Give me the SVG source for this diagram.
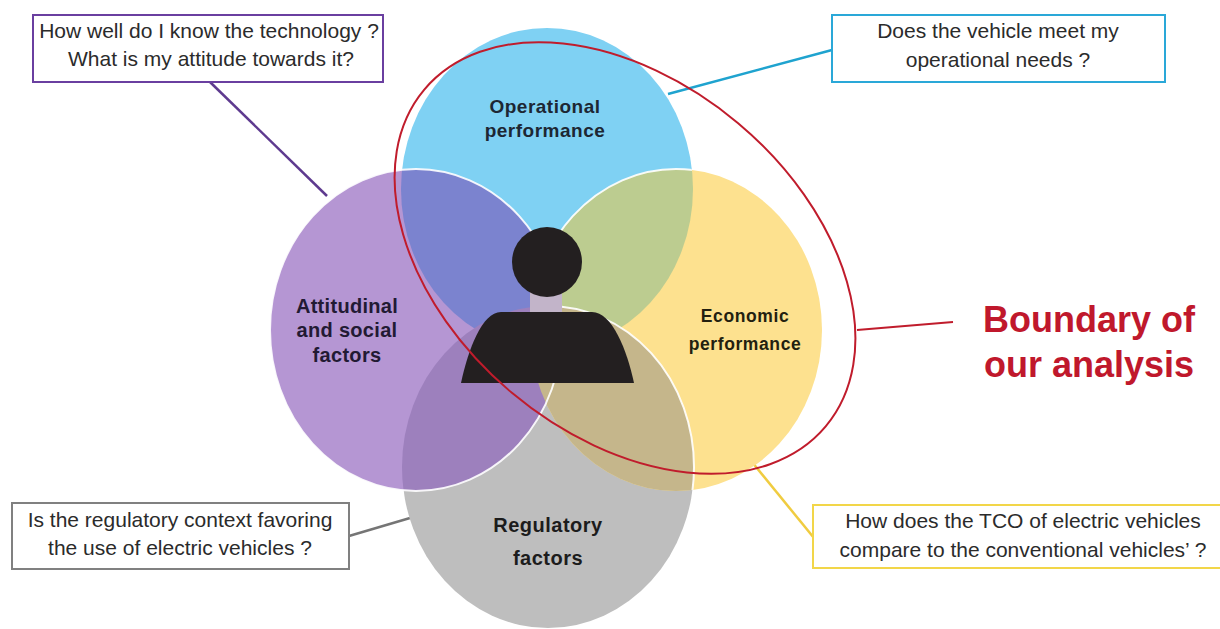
<svg xmlns="http://www.w3.org/2000/svg" width="1220" height="629" viewBox="0 0 1220 629">
<style>
.q{font-family:"Liberation Sans",Arial,sans-serif;font-size:21px;fill:#2b2b2b;text-anchor:middle}
.lbl{font-family:"Liberation Sans",Arial,sans-serif;font-weight:bold;text-anchor:middle}
.box{fill:#ffffff;stroke-width:2}
.conn{stroke-width:2.5;fill:none}
.edge{fill:none;stroke:#ffffff;stroke-width:2;opacity:0.9}
</style>
<defs>
<clipPath id="cBlue"><ellipse cx="547" cy="189" rx="146" ry="161"/></clipPath>
<clipPath id="cPurple"><ellipse cx="416" cy="330" rx="146" ry="161"/></clipPath>
<clipPath id="cYellow"><ellipse cx="676" cy="330" rx="146" ry="161"/></clipPath>
</defs>
<rect width="1220" height="629" fill="#ffffff"/>

<g id="connectors">
<line class="conn" x1="210" y1="82" x2="327" y2="196" stroke="#5e3a8f"/>
<line class="conn" x1="832" y1="50" x2="668" y2="94" stroke="#1fa3cf"/>
<line class="conn" x1="349" y1="536" x2="410" y2="518" stroke="#757575"/>
<line class="conn" x1="752" y1="462" x2="814" y2="538" stroke="#f0cc40"/>
<line x1="857" y1="330" x2="953" y2="322" stroke="#c01c2c" stroke-width="2"/>
</g>

<g id="node-operational">
<ellipse cx="547" cy="189" rx="146" ry="161" fill="#7fd1f3"/>
</g>
<g id="node-regulatory">
<ellipse cx="548" cy="467" rx="146" ry="161" fill="#bebebe"/>
</g>
<g id="node-attitudinal">
<ellipse cx="416" cy="330" rx="146" ry="161" fill="#b596d3"/>
</g>
<g id="node-economic">
<ellipse cx="676" cy="330" rx="146" ry="161" fill="#fde18f"/>
</g>
<g id="overlaps">
<ellipse cx="416" cy="330" rx="146" ry="161" fill="#7b83cf" clip-path="url(#cBlue)"/>
<ellipse cx="676" cy="330" rx="146" ry="161" fill="#bccc90" clip-path="url(#cBlue)"/>
<ellipse cx="548" cy="467" rx="146" ry="161" fill="#9d80bd" clip-path="url(#cPurple)"/>
<ellipse cx="548" cy="467" rx="146" ry="161" fill="#c5b68b" clip-path="url(#cYellow)"/>
<ellipse class="edge" cx="416" cy="330" rx="146" ry="161"/>
<ellipse class="edge" cx="676" cy="330" rx="146" ry="161" clip-path="url(#cBlue)"/>
<ellipse class="edge" cx="548" cy="467" rx="146" ry="161" clip-path="url(#cYellow)"/>
</g>

<g id="labels">
<text class="lbl" x="545" y="113" font-size="19" letter-spacing="0.5" fill="#1d2733">Operational</text>
<text class="lbl" x="545" y="137" font-size="19" letter-spacing="0.5" fill="#1d2733">performance</text>
<text class="lbl" x="347" y="313" font-size="20" letter-spacing="0.3" fill="#221a33">Attitudinal</text>
<text class="lbl" x="347" y="337" font-size="20" letter-spacing="0.3" fill="#221a33">and social</text>
<text class="lbl" x="347" y="362" font-size="20" letter-spacing="0.3" fill="#221a33">factors</text>
<text class="lbl" x="745" y="322" font-size="17.5" letter-spacing="0.6" fill="#231f10">Economic</text>
<text class="lbl" x="745" y="350" font-size="17.5" letter-spacing="0.6" fill="#231f10">performance</text>
<text class="lbl" x="548" y="532" font-size="20" letter-spacing="0.5" fill="#1c1c1c">Regulatory</text>
<text class="lbl" x="548" y="565" font-size="20" letter-spacing="0.5" fill="#1c1c1c">factors</text>
</g>

<g id="person">
<rect x="530" y="292" width="32" height="22" fill="#c2b4c9"/>
<circle cx="547" cy="262" r="35" fill="#231f20"/>
<path d="M461,383 L634,383 C627,350 612,312 592,312 L501,312 C482,312 468,350 461,383 Z" fill="#231f20"/>
</g>

<g id="boundary">
<ellipse cx="625" cy="258" rx="262" ry="176" transform="rotate(40 625 258)" fill="none" stroke="#c01c2c" stroke-width="2"/>
<text class="lbl" x="1089" y="332" font-size="36" fill="#c0182c">Boundary of</text>
<text class="lbl" x="1089" y="377" font-size="36" fill="#c0182c">our analysis</text>
</g>

<g id="q-technology">
<rect class="box" x="33" y="15" width="350" height="67" stroke="#6a3fa0"/>
<text class="q" x="209" y="38">How well do I know the technology ?</text>
<text class="q" x="211" y="66">What is my attitude towards it?</text>
</g>
<g id="q-operational">
<rect class="box" x="832" y="15" width="333" height="67" stroke="#2aa8d8"/>
<text class="q" x="998" y="38">Does the vehicle meet my</text>
<text class="q" x="998" y="67">operational  needs ?</text>
</g>
<g id="q-regulatory">
<rect class="box" x="12" y="503" width="337" height="66" stroke="#808080"/>
<text class="q" x="180" y="527">Is the regulatory context favoring</text>
<text class="q" x="180" y="555">the use of electric vehicles ?</text>
</g>
<g id="q-tco">
<rect class="box" x="813" y="505" width="420" height="63" stroke="#f2d649"/>
<text class="q" x="1023" y="528">How does the TCO of electric vehicles</text>
<text class="q" x="1023" y="557">compare to the conventional  vehicles’ ?</text>
</g>
</svg>
